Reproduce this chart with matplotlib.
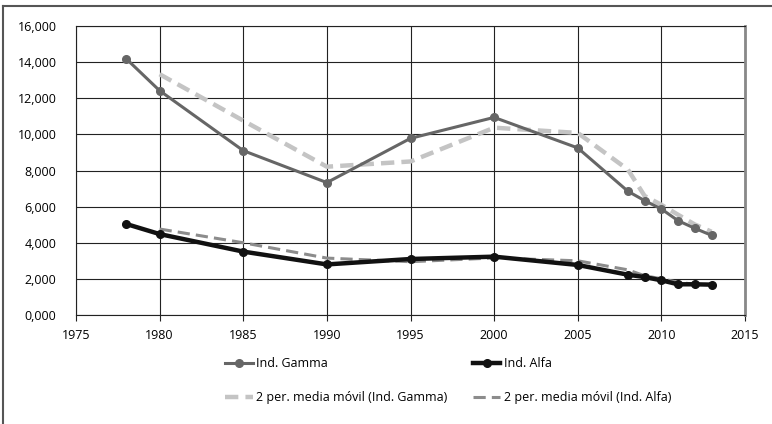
import matplotlib
matplotlib.use("Agg")
import matplotlib.pyplot as plt
from matplotlib.lines import Line2D

plt.rcParams["font.family"] = ["Open Sans", "DejaVu Sans"]

# --- data --------------------------------------------------------------------
years = [1978, 1980, 1985, 1990, 1995, 2000, 2005, 2008, 2009, 2010, 2011, 2012, 2013]
gamma = [14190, 12420, 9100, 7330, 9780, 10940, 9250, 6850, 6330, 5870, 5220, 4800, 4410]
alfa = [5040, 4480, 3510, 2800, 3100, 3230, 2770, 2230, 2100, 1920, 1700, 1700, 1680]

ma_years = years[1:]
gamma_ma = [13330, 10760, 8210, 8500, 10370, 10080, 8050, 6590, 6100, 5550, 5010, 4610]
alfa_ma = [4760, 4000, 3150, 2950, 3160, 3000, 2500, 2170, 2010, 1810, 1700, 1690]

xticks = [1975, 1980, 1985, 1990, 1995, 2000, 2005, 2010, 2015]
yticks = [0, 2000, 4000, 6000, 8000, 10000, 12000, 14000, 16000]
ytick_labels = ["0,000", "2,000", "4,000", "6,000", "8,000", "10,000",
                "12,000", "14,000", "16,000"]

C_GAMMA = "#666666"
C_ALFA = "#111111"
C_GAMMA_MA = "#c4c4c4"
C_ALFA_MA = "#8c8c8c"

fig = plt.figure(figsize=(7.72, 4.24), dpi=100)
fig.patch.set_facecolor("white")
ax = fig.add_axes([76 / 772, 1 - 315 / 424, (745 - 76) / 772, (315 - 26) / 424])

ax.plot(ma_years, gamma_ma, color=C_GAMMA_MA, lw=3.2, ls=(0, (3, 1.6)), zorder=3)
ax.plot(ma_years, alfa_ma, color=C_ALFA_MA, lw=2.2, ls=(0, (4, 2)), zorder=3)
ax.plot(years, gamma, color=C_GAMMA, lw=2.2, marker="o", ms=5.5, zorder=4)
ax.plot(years, alfa, color=C_ALFA, lw=3.2, marker="o", ms=5.5, zorder=5)

ax.set_xlim(1975, 2015)
ax.set_ylim(0, 16000)
ax.set_xticks(xticks)
ax.set_yticks(yticks)
ax.set_yticklabels(ytick_labels)
ax.grid(True, color="#222222", lw=0.8)
ax.set_axisbelow(True)
ax.tick_params(axis="x", length=4, width=0.8, color="#222222", labelsize=9, pad=6)
ax.tick_params(axis="y", length=0, labelsize=9, pad=14)
for s in ["top", "bottom", "left"]:
    ax.spines[s].set_color("#222222")
    ax.spines[s].set_linewidth(0.8)
ax.spines["right"].set_color("#888888")
ax.spines["right"].set_linewidth(2)

handles = [
    Line2D([], [], color=C_GAMMA, lw=2.2, marker="o", ms=5.5),
    Line2D([], [], color=C_GAMMA_MA, lw=3.2, ls=(0, (3, 1.6))),
    Line2D([], [], color=C_ALFA, lw=3.2, marker="o", ms=5.5),
    Line2D([], [], color=C_ALFA_MA, lw=2.2, ls=(0, (4, 2))),
]
labels = ["Ind. Gamma", "2 per. media móvil (Ind. Gamma)",
          "Ind. Alfa", "2 per. media móvil (Ind. Alfa)"]
fig.legend(handles, labels, ncol=2, loc="upper left",
           bbox_to_anchor=(214 / 772, 1 - 346 / 424), frameon=False,
           fontsize=9, handlelength=2.2, handletextpad=0.3,
           columnspacing=2.0, labelspacing=1.7)

# outer frame (left and top edges only visible)
fig.add_artist(Line2D([3.5 / 772, 3.5 / 772], [0, 1 - 6 / 424],
                      transform=fig.transFigure, color="#555555", lw=1.5))
fig.add_artist(Line2D([3.5 / 772, 1], [1 - 6 / 424, 1 - 6 / 424],
                      transform=fig.transFigure, color="#555555", lw=1.5))

fig.savefig("out.png", dpi=100)
